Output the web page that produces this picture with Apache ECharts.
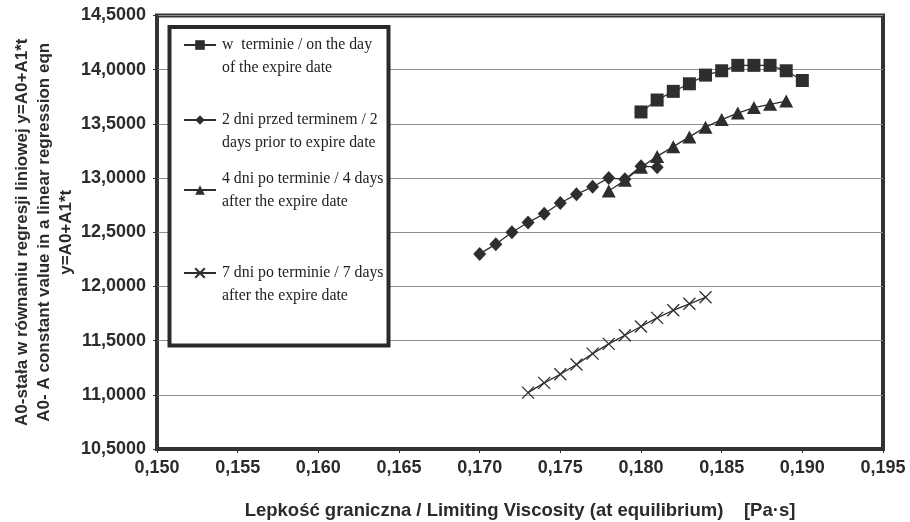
<!DOCTYPE html>
<html><head><meta charset="utf-8">
<script src="https://cdn.jsdelivr.net/npm/echarts@6/dist/echarts.min.js"></script>
<style>html,body{margin:0;padding:0;background:#fff}#c{width:910px;height:522px}</style>
</head><body><div id="c"></div>
<script>
// ---- data ----
const seriesNames = [
  'w  terminie / on the day\nof the expire date',
  '2 dni przed terminem / 2\ndays prior to expire date',
  '4 dni po terminie / 4 days\nafter the expire date',
  '7 dni po terminie / 7 days\nafter the expire date'
];
const onDayX = [0.180,0.181,0.182,0.183,0.184,0.185,0.186,0.187,0.188,0.189,0.190];
const onDayY = [13.61,13.72,13.80,13.87,13.95,13.99,14.04,14.04,14.04,13.99,13.90];
const before2X = [0.170,0.171,0.172,0.173,0.174,0.175,0.176,0.177,0.178,0.179,0.180,0.181];
const before2Y = [12.30,12.39,12.50,12.59,12.67,12.77,12.85,12.92,13.00,12.99,13.11,13.10];
const after4X = [0.178,0.179,0.180,0.181,0.182,0.183,0.184,0.185,0.186,0.187,0.188,0.189];
const after4Y = [12.88,12.98,13.10,13.20,13.29,13.38,13.47,13.54,13.60,13.65,13.68,13.71];
const after7X = [0.173,0.174,0.175,0.176,0.177,0.178,0.179,0.180,0.181,0.182,0.183,0.184];
const after7Y = [11.02,11.11,11.19,11.28,11.38,11.47,11.55,11.63,11.71,11.78,11.84,11.90];
const xAxisRange = [0.150, 0.195, 0.005];
const yAxisRange = [10.5, 14.5, 0.5];
const xTitle = 'Lepkość graniczna / Limiting Viscosity (at equilibrium)    [Pa·s]';
const yTitle = 'A0-stała w równaniu regresji liniowej y=A0+A1*t\nA0- A constant value in a linear regression eqn\ny=A0+A1*t';

const pairs = (xs, ys) => xs.map((x, i) => [x, ys[i]]);
const ink = '#2e2e2e';
const lbl = {fontFamily: 'Liberation Sans, Arial, sans-serif', fontWeight: 'bold', color: '#2b2b2b'};

function lineSeries(name, data, symbol, size, extraItem) {
  return {
    name, type: 'line', data, symbol, symbolSize: size,
    lineStyle: {color: ink, width: 1.3},
    itemStyle: Object.assign({color: ink}, extraItem || {}),
    emphasis: {disabled: true}
  };
}

const chart = echarts.init(document.getElementById('c'), null, {renderer: 'canvas'});
chart.setOption({
  animation: false,
  backgroundColor: '#fff',
  grid: {left: 157, right: 27, top: 15.5, bottom: 73, show: true, borderColor: '#333', borderWidth: 4,
    backgroundColor: 'transparent', containLabel: false, outerBoundsMode: 'none'},
  xAxis: {
    type: 'value', min: xAxisRange[0], max: xAxisRange[1], interval: xAxisRange[2],
    axisLine: {show: true, lineStyle: {color: '#333', width: 1}},
    axisTick: {show: true, length: 4, lineStyle: {color: '#333'}},
    splitLine: {show: false},
    axisLabel: Object.assign({fontSize: 18, margin: 10, formatter: v => v.toFixed(3).replace('.', ',')}, lbl),
    name: xTitle, nameLocation: 'middle', nameGap: 52, nameMoveOverlap: false,
    nameTextStyle: Object.assign({fontSize: 18.5}, lbl)
  },
  yAxis: {
    type: 'value', min: yAxisRange[0], max: yAxisRange[1], interval: yAxisRange[2],
    axisLine: {show: true, lineStyle: {color: '#333', width: 1}},
    axisTick: {show: true, length: 4, lineStyle: {color: '#333'}},
    splitLine: {show: true, lineStyle: {color: '#8f8f8f', width: 1}},
    axisLabel: Object.assign({fontSize: 18, margin: 11, formatter: v => v.toFixed(4).replace('.', ',')}, lbl),
    name: yTitle, nameLocation: 'middle', nameRotate: 90, nameGap: 80, nameMoveOverlap: false,
    nameTextStyle: Object.assign({fontSize: 17, lineHeight: 22, align: 'center'}, lbl)
  },
  legend: {
    orient: 'vertical', left: 183, top: 10.5, padding: 0, itemGap: 6,
    itemWidth: 32, itemHeight: 12, z: 4,
    formatter: n => (n === seriesNames[2] ? n : '\n' + n),
    textStyle: {fontFamily: 'Liberation Serif, Times New Roman, serif', fontSize: 15.8, lineHeight: 23, color: '#222'},
    data: [
      {name: seriesNames[0], textStyle: {padding: [0, 0, 0, 1]}},
      {name: seriesNames[1], textStyle: {padding: [0, 0, 0, 1]}},
      {name: seriesNames[2], textStyle: {padding: [13, 0, 0, 1]}},
      {name: seriesNames[3], textStyle: {padding: [26, 0, 0, 1]}}
    ]
  },
  graphic: {elements: [{type: 'rect', z: 3, shape: {x: 169.5, y: 27, width: 219, height: 318.5},
    style: {fill: '#fff', stroke: '#2a2a2a', lineWidth: 4}}]},
  series: [
    lineSeries(seriesNames[0], pairs(onDayX, onDayY), 'rect', 13),
    lineSeries(seriesNames[1], pairs(before2X, before2Y), 'diamond', [13, 14]),
    lineSeries(seriesNames[2], pairs(after4X, after4Y), 'triangle', [14, 13]),
    lineSeries(seriesNames[3], pairs(after7X, after7Y), 'path://M0,0L10,10M10,0L0,10', 12,
      {color: 'none', borderColor: ink, borderWidth: 1.3})
  ]
});
</script></body></html>
